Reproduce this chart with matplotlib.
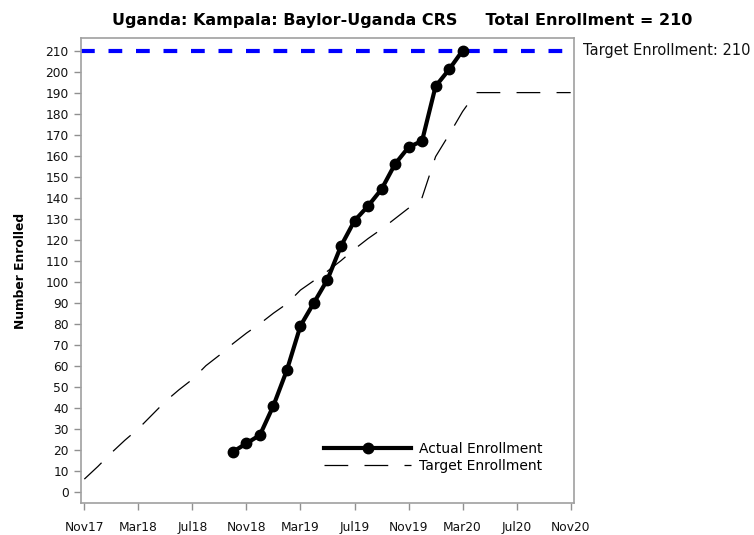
import matplotlib
matplotlib.use("Agg")
import matplotlib.pyplot as plt

# months counted from Nov 2017 (0) to Nov 2020 (36)
tick_months = [0, 4, 8, 12, 16, 20, 24, 28, 32, 36]
tick_labels = ["Nov17", "Mar18", "Jul18", "Nov18", "Mar19", "Jul19",
               "Nov19", "Mar20", "Jul20", "Nov20"]

# actual enrollment, monthly Oct18 .. Mar20
actual_months = list(range(11, 29))
actual_values = [19, 23, 27, 41, 58, 79, 90, 101, 117, 129, 136, 144,
                 156, 164, 167, 193, 201, 210]

# target enrollment, monthly Nov17 .. Nov20
target_months = list(range(0, 37))
target_values = [6, 12, 18.5, 24.5, 30, 36.5, 43, 48.5, 53.5, 60, 65, 70.5,
                 75.5, 80, 85, 89.5, 96, 100.5, 105, 110, 115.5, 120.5, 125,
                 130, 135, 140, 159.5, 170, 181, 190, 190, 190, 190, 190,
                 190, 190, 190]

target_total = 210
site = "Uganda: Kampala: Baylor-Uganda CRS"

plt.rcParams['font.family'] = ['DejaVu Sans']
fig = plt.figure(figsize=(7.54, 5.35), dpi=100)
ax = fig.add_axes([0.107, 0.0593, 0.6547, 0.8697])

ax.axhline(target_total, color='#0000ff', lw=3, dashes=(3.3, 3.3), zorder=1)
ax.plot(target_months, target_values, color='black', lw=0.9,
        dashes=(19, 13), label='Target Enrollment', zorder=2)
ax.plot(actual_months, actual_values, color='black', lw=3, marker='o',
        markersize=7.5, label='Actual Enrollment', zorder=3)

ax.set_xlim(-0.27, 36.27)
ax.set_ylim(-5.5, 216)
ax.set_xticks(tick_months)
ax.set_xticklabels(tick_labels)
ax.set_yticks(range(0, 211, 10))
ax.tick_params(axis='both', labelsize=8.8, color='#909090', length=5,
               width=1, labelcolor='#111111')
ax.tick_params(axis='x', pad=8)
for s in ax.spines.values():
    s.set_color('#a0a0a0')
    s.set_linewidth(1.2)

ax.set_ylabel("Number Enrolled", fontsize=8.8, fontweight='bold')
ax.yaxis.set_label_coords(-0.109, 0.5)

h, l = ax.get_legend_handles_labels()
ax.legend(h[::-1], l[::-1], loc='lower right', bbox_to_anchor=(0.961, 0.038),
          frameon=False, fontsize=10, handlelength=6.3, handletextpad=0.55,
          labelspacing=0.25)

ax.text(1.018, (target_total + 5.5) / 221.5, "Target Enrollment: %d" % target_total,
        transform=ax.transAxes, fontsize=10.5, va='center', ha='left', color='#111111')

fig.text(0.533, 0.962, site + "     Total Enrollment = %d" % target_total,
         ha='center', va='center', fontsize=11.5, fontweight='bold')

fig.savefig("out.png", dpi=100)
